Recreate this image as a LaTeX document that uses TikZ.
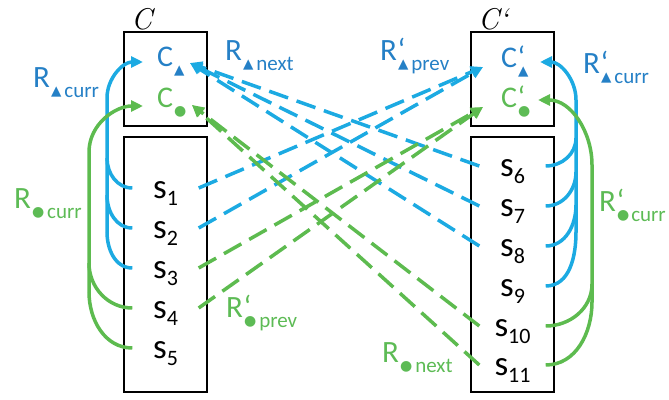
\documentclass[tikz,border=0pt]{standalone}
\usepackage{fontspec}
\newfontfamily\calfont{Carlito}
\newfontfamily\symf{DejaVu Sans}
\usetikzlibrary{arrows.meta}
\definecolor{lb}{HTML}{1CAAE2}
\definecolor{tb}{HTML}{2580C6}
\definecolor{lg}{HTML}{5DBB4F}
\definecolor{tg}{HTML}{5DBB55}
\newcommand{\tri}{\raisebox{-8.5pt}{\symf\fontsize{13.5}{13.5}\selectfont ▲}}
\newcommand{\bul}{\raisebox{-8.5pt}{\symf\fontsize{14}{14}\selectfont ●}}
\newcommand{\lsub}[1]{\raisebox{-10pt}{\fontsize{21}{21}\selectfont #1}}
\newcommand{\ssub}[1]{\raisebox{-7.5pt}{\fontsize{22}{22}\selectfont #1}}
\newcommand{\pr}{\rlap{\kern0.5pt‘}\kern1pt}
\begin{document}
\begin{tikzpicture}[x=1pt,y=-1pt,
  box/.style={draw, line width=1.6pt, inner sep=0pt},
  clab/.style={font=\calfont\fontsize{30}{30}\selectfont, anchor=base west, inner sep=0pt},
  rlab/.style={font=\calfont\fontsize{31}{31}\selectfont, anchor=base west, inner sep=0pt},
  snode/.style={font=\calfont\fontsize{35}{35}\selectfont, anchor=base, inner sep=0pt,
     minimum width=66pt, text height=24pt, text depth=4pt},
  ttl/.style={font=\fontsize{30}{30}\selectfont\itshape, anchor=base west, inner sep=0pt},
  con/.style={line width=3.5pt},
  arr/.style={-{Triangle[length=12pt,width=11pt]}},
  dsh/.style={con, dash pattern=on 20pt off 9pt},
]
\useasboundingbox (0,0) rectangle (669,399);
% boxes
\node[box, minimum width=83pt, minimum height=94pt] (CA) at (165.5,79) {};
\node[box, minimum width=83pt, minimum height=255pt] (SA) at (165.5,264.5) {};
\node[box, minimum width=83pt, minimum height=94pt] (CB) at (512.5,79) {};
\node[box, minimum width=83pt, minimum height=255pt] (SB) at (512.5,264.5) {};
% titles
\node[ttl] (tA) at (131,29) {C};
\node[ttl] (tB) at (478,29) {C‘};
% C labels
\node[clab, text=tb] (Ct) at (157,66) {C\kern1pt\tri};
\node[clab, text=tg] (Cd) at (157,107) {C\kern1pt\bul};
\node[clab, text=tb] (Cpt) at (501,67) {C\pr\tri};
\node[clab, text=tg] (Cpd) at (501,107) {C\pr\bul};
\coordinate (CtL) at (143,62);
\coordinate (CtR) at (190,63);
\coordinate (CdL) at (143,106);
\coordinate (CdR) at (192,105);
\coordinate (CptL) at (483,67);
\coordinate (CptR) at (540,62);
\coordinate (CpdL) at (483,107);
\coordinate (CpdR) at (538,100);
% s labels
\node[snode] (s1) at (165.5,198) {s\ssub{1}};
\node[snode] (s2) at (165.5,238) {s\ssub{2}};
\node[snode] (s3) at (165.5,278) {s\ssub{3}};
\node[snode] (s4) at (165.5,318) {s\ssub{4}};
\node[snode] (s5) at (165.5,358) {s\ssub{5}};
\node[snode] (s6) at (512.5,176) {s\ssub{6}};
\node[snode] (s7) at (512.5,216) {s\ssub{7}};
\node[snode] (s8) at (512.5,256) {s\ssub{8}};
\node[snode] (s9) at (512.5,296) {s\ssub{9}};
\node[snode] (s10) at (512.5,336) {s\ssub{10}};
\node[snode] (s11) at (512.5,375) {s\ssub{11}};
% R labels
\node[rlab, text=tb] (Rtc) at (33,87) {R\kern1pt\tri\kern3pt\lsub{curr}};
\node[rlab, text=tg] (Rdc) at (14,208) {R\kern1pt\bul\kern3pt\lsub{curr}};
\node[rlab, text=tb] (Rtn) at (225,60) {R\kern1pt\tri\kern3pt\lsub{next}};
\node[rlab, text=tb] (Rptp) at (380,60) {R\pr\tri\kern3pt\lsub{prev}};
\node[rlab, text=tb] (Rptc) at (583,73) {R\pr\tri\kern3pt\lsub{curr}};
\node[rlab, text=tg] (Rpdc) at (599,211) {R\pr\bul\kern2pt\lsub{curr}};
\node[rlab, text=tg] (Rpdp) at (226,317) {R\pr\bul\kern3pt\lsub{prev}};
\node[rlab, text=tg] (Rdn) at (382,362) {R\kern1pt\bul\kern3pt\lsub{next}};
% left curr connectors
\coordinate (jb1) at (107,158);
\coordinate (jb2) at (107,195);
\coordinate (jb3) at (107,232);
\coordinate (jg4) at (89,263);
\coordinate (jg5) at (89,292);
\draw[con, lb] (s1.west) to[out=180,in=-90] (jb1);
\draw[con, lb] (s2.west) to[out=180,in=-90] (jb2);
\draw[con, lb] (s3.west) to[out=180,in=-90] (jb3);
\draw[con, lb, arr] (jb3) -- (107,98) to[out=90,in=180] (CtL);
\draw[con, lg] (s4.west) to[out=180,in=-90] (jg4);
\draw[con, lg] (s5.west) to[out=180,in=-90] (jg5);
\draw[con, lg, arr] (jg5) -- (89,152) to[out=90,in=180] (CdL);
% right curr connectors
\coordinate (kb6) at (576,138);
\coordinate (kb7) at (576,172);
\coordinate (kb8) at (576,205);
\coordinate (kb9) at (576,232);
\coordinate (kg10) at (592,284);
\coordinate (kg11) at (592,302);
\draw[con, lb] (s6.east) to[out=0,in=-90] (kb6);
\draw[con, lb] (s7.east) to[out=0,in=-90] (kb7);
\draw[con, lb] (s8.east) to[out=0,in=-90] (kb8);
\draw[con, lb] (s9.east) to[out=0,in=-90] (kb9);
\draw[con, lb, arr] (kb9) -- (576,100) to[out=90,in=0] (CptR);
\draw[con, lg] (s10.east) to[out=0,in=-90] (kg10);
\draw[con, lg] (s11.east) to[out=0,in=-90] (kg11);
\draw[con, lg, arr] (kg11) -- (592,165) to[out=90,in=0] (CpdR);
% dashed cross connectors
\draw[dsh, lb, arr] (s6.west) -- (CtR);
\draw[dsh, lb, arr] (s7.west) -- (CtR);
\draw[dsh, lb, arr] (s8.west) -- (CtR);
\draw[dsh, lb, arr] (s1.east) -- (CptL);
\draw[dsh, lb, arr] (s2.east) -- (CptL);
\draw[dsh, lg, arr] (s3.east) -- (CpdL);
\draw[dsh, lg, arr] (s4.east) -- (CpdL);
\draw[dsh, lg, arr] (s10.west) -- (CdR);
\draw[dsh, lg, arr] (s11.west) -- (CdR);
\end{tikzpicture}
\end{document}
